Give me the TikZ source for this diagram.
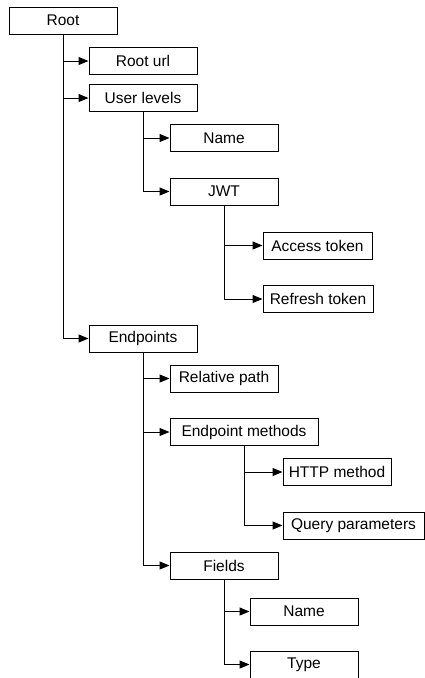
\documentclass[tikz,border=0pt]{standalone}
\usepackage{fontspec}
\setmainfont{Liberation Sans}
\usetikzlibrary{arrows.meta}
\begin{document}
\begin{tikzpicture}[x=1pt,y=-1pt,
  box/.style={draw=black, line width=1pt, fill=white, minimum height=27pt,
    inner sep=0pt, font=\fontsize{15.5}{18}\selectfont},
  link/.style={draw=black, line width=1pt, -{Triangle[length=10pt,width=8pt]}}]
\useasboundingbox (0,0) rectangle (424,678);

% tree nodes
\node[box, minimum width=108pt] (root)    at (63,20.5)   {Root};
\node[box, minimum width=108pt] (rooturl) at (143,61)    {Root url};
\node[box, minimum width=108pt] (levels)  at (143,98)    {User levels};
\node[box, minimum width=108pt] (lname)   at (224,138)   {Name};
\node[box, minimum width=108pt] (jwt)     at (224,191.5) {JWT};
\node[box, minimum width=109pt] (access)  at (317.5,245.5) {Access token};
\node[box, minimum width=110pt] (refresh) at (318,299)   {Refresh token};
\node[box, minimum width=108pt] (endp)    at (143,338.5) {Endpoints};
\node[box, minimum width=108pt] (relpath) at (224,378.5) {Relative path};
\node[box, minimum width=148pt] (methods) at (244,432)   {Endpoint methods};
\node[box, minimum width=108pt] (http)    at (337,472)   {HTTP method};
\node[box, minimum width=141pt] (query)   at (353.5,525.5) {Query parameters};
\node[box, minimum width=108pt] (fields)  at (224,565.5) {Fields};
\node[box, minimum width=108pt] (fname)   at (304,611.5) {Name};
\node[box, minimum width=108pt] (ftype)   at (304,664.5) {Type};

% connectors
\foreach \p/\c in {root/rooturl, root/levels, root/endp,
                   levels/lname, levels/jwt,
                   jwt/access, jwt/refresh,
                   endp/relpath, endp/methods, endp/fields,
                   methods/http, methods/query,
                   fields/fname, fields/ftype}
  \draw[link] (\p.south) |- (\c.west);
\end{tikzpicture}
\end{document}
